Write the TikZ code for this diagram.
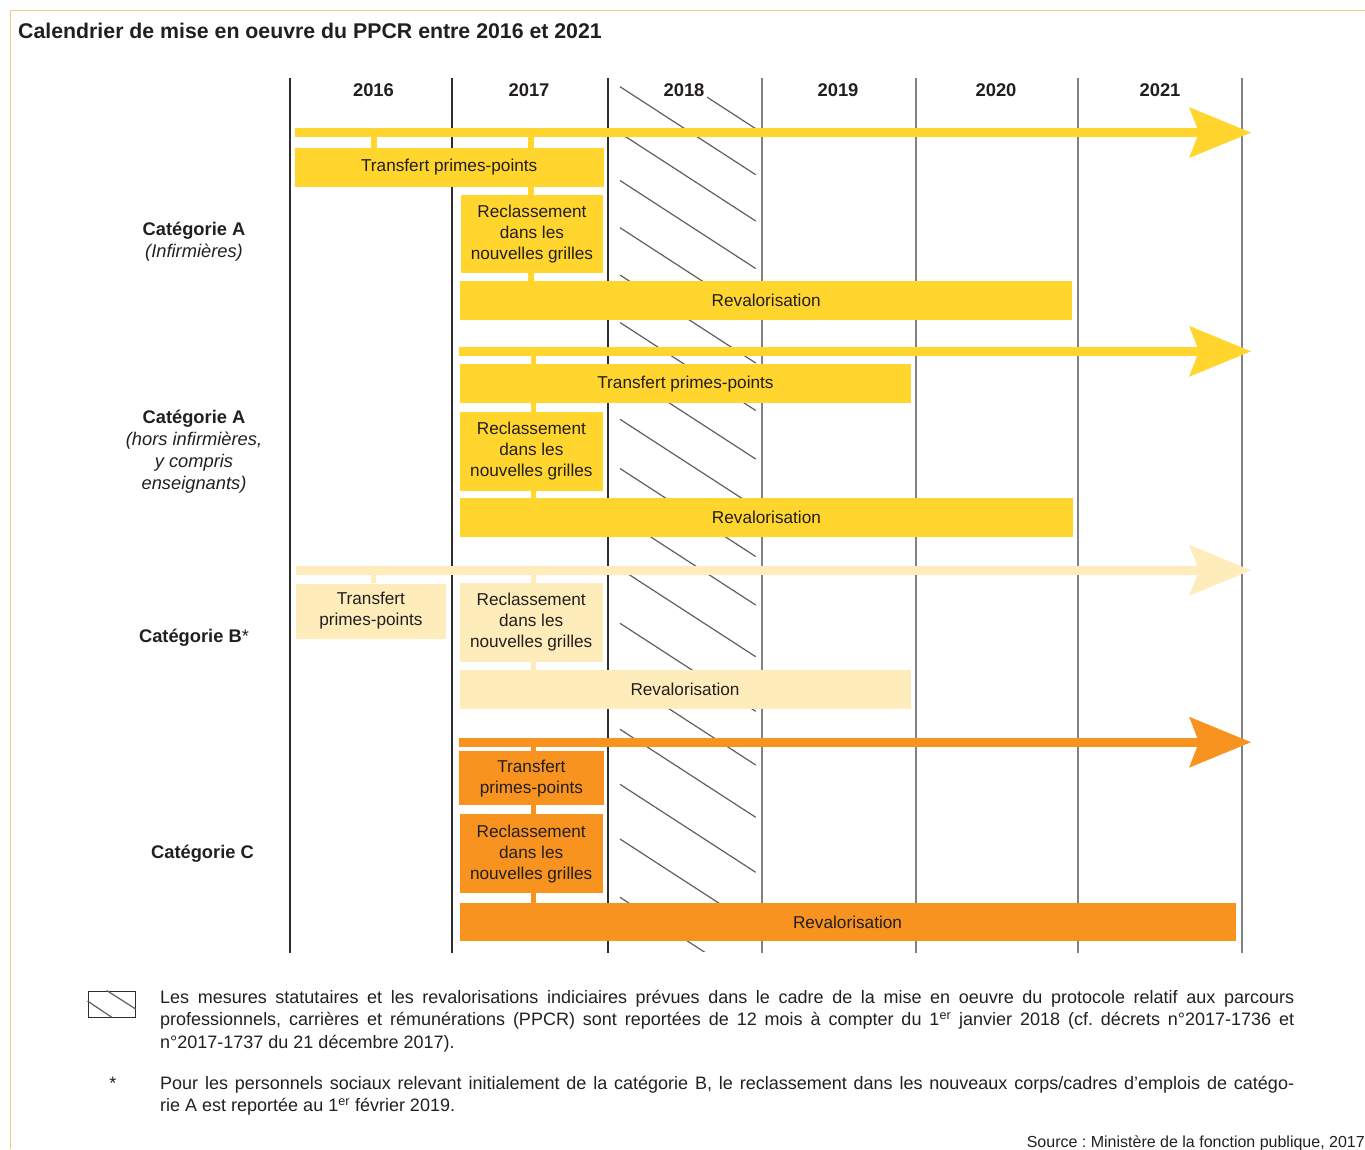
\documentclass[tikz,border=0pt]{standalone}
\usepackage{fontspec}
\setmainfont{Liberation Sans}
\frenchspacing
\definecolor{yel}{RGB}{255,213,46}
\definecolor{lite}{RGB}{255,236,187}
\definecolor{orng}{RGB}{247,147,30}
\definecolor{ink}{RGB}{35,31,32}
\definecolor{framec}{RGB}{236,205,120}
\definecolor{darkline}{RGB}{45,45,45}
\definecolor{greyline}{RGB}{130,130,130}
\definecolor{hatchc}{RGB}{95,95,95}
\newcommand{\tlarrow}[4]{%
  \fill[#1] ({#2},{#3-4.4}) rectangle (1200,{#3+4.4});
  \fill[#1] (1251,{#3}) -- (1189,{#3-25.5}) -- (1199,{#3}) -- (1189,{#3+25.5}) -- cycle;
  \coordinate (#4) at ({#2},{#3});}
\begin{document}
\begin{tikzpicture}[x=1pt,y=-1pt,
  every node/.style={text=ink, inner sep=0pt},
  box/.style={fill=#1, anchor=north west, align=center, font=\fontsize{17.2}{21}\selectfont},
  stub/.style={draw=#1, line width=5.3pt},
  yearlbl/.style={font=\bfseries\fontsize{18.4}{22}\selectfont, fill=white, inner xsep=3pt, inner ysep=4pt, anchor=base},
  cat/.style={anchor=base, font=\fontsize{18.3}{22.3}\selectfont},
  yrdark/.style={draw=darkline, line width=1.2pt},
  yrgrey/.style={draw=greyline, line width=1.5pt},
  hatchline/.style={draw=hatchc, line width=1.2pt},
  legend/.style={anchor=base west, font=\fontsize{18}{22.4}\selectfont},
]
\useasboundingbox (0,0) rectangle (1365,1149);
% frame
\draw[framec, line width=1.3pt] (10.5,1149) -- (10.5,10.5) -- (1365,10.5);
% title
\node[anchor=base west, font=\bfseries\fontsize{21.3}{25}\selectfont] (title) at (18,38) {Calendrier de mise en oeuvre du PPCR entre 2016 et 2021};
% hatch (reported year)
\begin{scope}
\clip (619,81) rectangle (757,951);
\foreach \yy in {40.7,86.7,133,180.5,227.7,275,322.5,371,419.3,468.5,517,568.7,623.3,677,729.3,784.3,839,897.3,955}
  \draw[hatchline] (620,\yy) -- (755.7,\yy+88);
\end{scope}
% year separators
\foreach \xx in {290,452,608} \draw[yrdark] (\xx,78) -- (\xx,953);
\foreach \xx in {762,916,1078,1242} \draw[yrgrey] (\xx,78) -- (\xx,953);
% year labels
\node[yearlbl] (y2016) at (373.5,96.5) {2016};
\node[yearlbl] (y2017) at (529,96.5) {2017};
\node[yearlbl] (y2018) at (684,96.5) {2018};
\node[yearlbl] (y2019) at (838,96.5) {2019};
\node[yearlbl] (y2020) at (996,96.5) {2020};
\node[yearlbl] (y2021) at (1160,96.5) {2021};
% timeline arrows
\tlarrow{yel}{294.6}{132.6}{barA1}
\tlarrow{yel}{459.3}{351.3}{barA2}
\tlarrow{lite}{295.7}{570.3}{barB}
\tlarrow{orng}{459.3}{742.2}{barC}
% Categorie A (infirmieres)
\node[box=yel, minimum width=309pt, minimum height=39pt] (a1t) at (294.5,147.5) {Transfert primes-points};
\node[box=yel, minimum width=142.5pt, minimum height=78pt] (a1r) at (460.5,195) {Reclassement\\dans les\\nouvelles grilles};
\node[box=yel, minimum width=612pt, minimum height=38.7pt] (a1v) at (460,280.7) {Revalorisation};
\coordinate (s1) at (374,132.6);
\coordinate (s2) at (531,132.6);
\draw[stub=yel] (s1) -- (s1 |- a1t.north);
\draw[stub=yel] (s2) -- (s2 |- a1t.north);
\draw[stub=yel] (a1t.south -| s2) -- (a1r.north -| s2);
\draw[stub=yel] (a1r.south -| s2) -- (a1v.north -| s2);
% Categorie A (hors infirmieres)
\node[box=yel, minimum width=451.5pt, minimum height=38.7pt] (a2t) at (459.5,364) {Transfert primes-points};
\node[box=yel, minimum width=143pt, minimum height=79pt] (a2r) at (459.7,411.7) {Reclassement\\dans les\\nouvelles grilles};
\node[box=yel, minimum width=613.5pt, minimum height=39pt] (a2v) at (459.5,497.7) {Revalorisation};
\coordinate (s3) at (533.5,351.3);
\draw[stub=yel] (s3) -- (s3 |- a2t.north);
\draw[stub=yel] (a2t.south -| s3) -- (a2r.north -| s3);
\draw[stub=yel] (a2r.south -| s3) -- (a2v.north -| s3);
% Categorie B
\node[box=lite, minimum width=150pt, minimum height=55pt] (bt) at (295.7,583.3) {Transfert\\primes-points};
\node[box=lite, minimum width=143.4pt, minimum height=79pt] (br) at (459.3,582.7) {Reclassement\\dans les\\nouvelles grilles};
\node[box=lite, minimum width=451pt, minimum height=39pt] (bv) at (459.3,670) {Revalorisation};
\coordinate (s4) at (373.5,570.3);
\coordinate (s5) at (533.5,570.3);
\draw[stub=lite] (s4) -- (s4 |- bt.north);
\draw[stub=lite] (s5) -- (s5 |- br.north);
\draw[stub=lite] (br.south -| s5) -- (bv.north -| s5);
% Categorie C
\node[box=orng, minimum width=145pt, minimum height=54pt] (ct) at (458.7,751) {Transfert\\primes-points};
\node[box=orng, minimum width=143.4pt, minimum height=78.7pt] (cr) at (459.3,814) {Reclassement\\dans les\\nouvelles grilles};
\node[box=orng, minimum width=776pt, minimum height=38pt] (cv) at (459.3,902.7) {Revalorisation};
\coordinate (s6) at (533.6,742.2);
\draw[stub=orng] (s6) -- (s6 |- ct.north);
\draw[stub=orng] (ct.south -| s6) -- (cr.north -| s6);
\draw[stub=orng] (cr.south -| s6) -- (cv.north -| s6);
% category labels
\node[cat] (catA1) at (194,235) {\parbox[t]{220pt}{\centering\textbf{Catégorie A}\\\textit{(Infirmières)}}};
\node[cat] (catA2) at (194,423) {\parbox[t]{220pt}{\centering\textbf{Catégorie A}\\\textit{(hors infirmières,}\\\textit{y compris}\\\textit{enseignants)}}};
\node[cat] (catB) at (194,642) {\textbf{Catégorie B}*};
\node[cat] (catC) at (202.5,858) {\textbf{Catégorie C}};
% legend
\node[draw=darkline, line width=1.2pt, minimum width=47pt, minimum height=26.5pt, anchor=north west] (key) at (87.5,990.5) {};
\draw[hatchline] (key.west |- 0,1001) -- (111.7,1017.2);
\draw[hatchline] (106.7,990.5) -- (key.east |- 0,1009);
\node[legend] (note1) at (160,1003.3) {\parbox[t]{1134pt}{Les mesures statutaires et les revalorisations indiciaires prévues dans le cadre de la mise en oeuvre du protocole relatif aux parcours\linebreak professionnels, carrières et rémunérations (PPCR) sont reportées de 12 mois à compter du 1\textsuperscript{er}~janvier 2018 (cf. décrets n°2017-1736 et\linebreak n°2017-1737 du 21 décembre 2017).}};
\node[anchor=base, font=\fontsize{18}{22.4}\selectfont] (star) at (113,1089.3) {*};
\node[legend] (note2) at (160,1089.3) {\parbox[t]{1134pt}{Pour les personnels sociaux relevant initialement de la catégorie B, le reclassement dans les nouveaux corps/cadres d’emplois de catégo-\linebreak rie A est reportée au 1\textsuperscript{er} février 2019.}};
\node[anchor=base east, font=\fontsize{16}{18}\selectfont] (src) at (1365,1147.5) {Source : Ministère de la fonction publique, 2017};
\end{tikzpicture}
\end{document}
